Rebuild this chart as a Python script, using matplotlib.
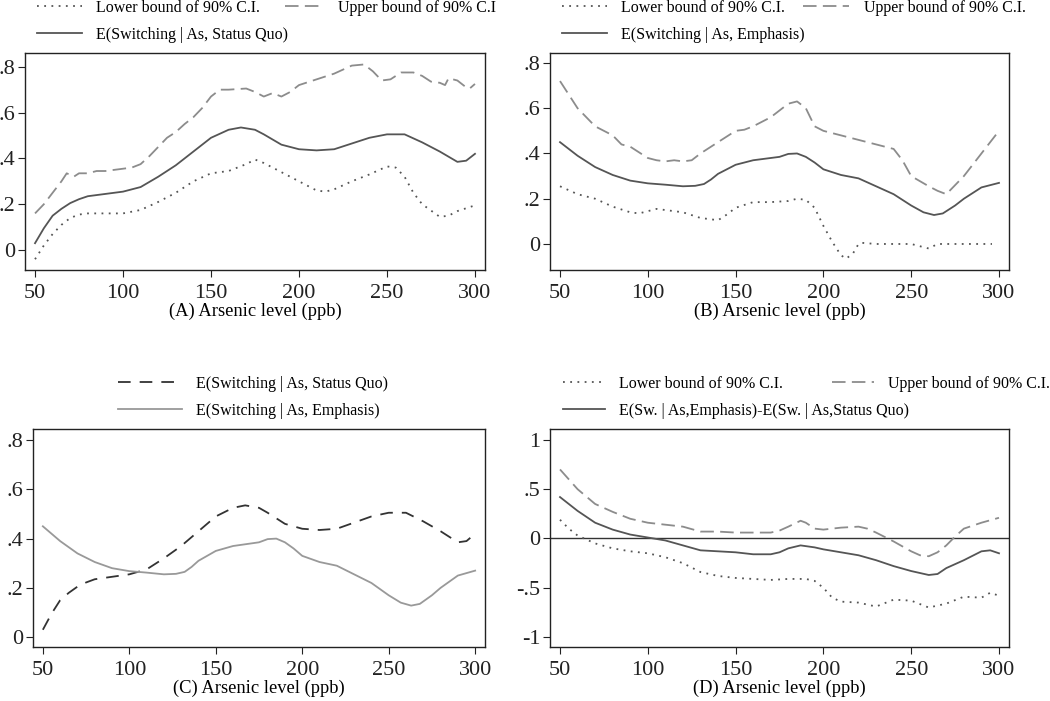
import matplotlib
matplotlib.use("Agg")
import matplotlib.pyplot as plt

plt.rcParams['font.family'] = ['Liberation Serif', 'DejaVu Serif']

# Panel A: status quo
a_x = [50, 55, 60, 65, 70, 75, 80, 90, 100, 110, 120, 130, 140, 150, 160, 167, 175, 180,
       190, 200, 210, 220, 230, 240, 250, 260, 270, 280, 290, 295, 300]
a_mean = [0.03, 0.095, 0.15, 0.18, 0.205, 0.222, 0.235, 0.245, 0.255, 0.275, 0.32, 0.37,
          0.43, 0.49, 0.525, 0.535, 0.525, 0.505, 0.46, 0.44, 0.435, 0.44, 0.465, 0.49,
          0.505, 0.505, 0.47, 0.43, 0.385, 0.39, 0.42]

a_up_x = [50, 55, 60, 65, 68, 72, 75, 80, 85, 90, 95, 100, 105, 110, 115, 120, 125, 130,
          135, 140, 145, 150, 155, 160, 170, 175, 180, 185, 190, 195, 200, 210, 220, 230,
          237, 242, 247, 252, 258, 265, 270, 275, 280, 283, 285, 290, 295, 297, 300]
a_upper = [0.16, 0.2, 0.25, 0.3, 0.335, 0.32, 0.335, 0.335, 0.345, 0.345, 0.35, 0.355,
           0.36, 0.375, 0.41, 0.45, 0.49, 0.515, 0.55, 0.58, 0.62, 0.67, 0.7, 0.7, 0.705,
           0.69, 0.67, 0.685, 0.67, 0.69, 0.72, 0.745, 0.77, 0.805, 0.81, 0.78, 0.74,
           0.745, 0.775, 0.775, 0.76, 0.735, 0.73, 0.72, 0.75, 0.74, 0.71, 0.705, 0.725]

a_lo_x = [50, 55, 60, 65, 70, 75, 80, 90, 100, 110, 120, 130, 140, 150, 160, 170, 175, 180,
          190, 200, 210, 215, 220, 230, 240, 250, 255, 260, 265, 270, 280, 285, 290, 300]
a_lower = [-0.04, 0.02, 0.07, 0.11, 0.14, 0.155, 0.16, 0.16, 0.16, 0.175, 0.21, 0.25, 0.3,
           0.335, 0.345, 0.375, 0.395, 0.38, 0.34, 0.3, 0.26, 0.255, 0.265, 0.3, 0.33,
           0.365, 0.36, 0.32, 0.25, 0.2, 0.145, 0.15, 0.17, 0.195]

# Panel B: emphasis
b_x = [50, 60, 70, 80, 90, 100, 110, 120, 127, 132, 136, 140, 145, 150, 160, 170, 175, 180,
       185, 190, 195, 200, 210, 220, 230, 240, 250, 257, 263, 268, 275, 280, 290, 300]
b_mean = [0.45, 0.39, 0.34, 0.305, 0.28, 0.268, 0.262, 0.255, 0.257, 0.265, 0.285, 0.31,
          0.33, 0.35, 0.37, 0.38, 0.385, 0.398, 0.4, 0.385, 0.36, 0.33, 0.305, 0.29, 0.255,
          0.22, 0.17, 0.14, 0.128, 0.135, 0.17, 0.2, 0.25, 0.27]

b_up_x = [50, 55, 60, 65, 70, 80, 85, 90, 100, 105, 110, 115, 120, 125, 130, 140, 150, 155,
          160, 170, 175, 180, 185, 190, 195, 200, 210, 220, 230, 235, 240, 245, 250, 260,
          265, 270, 275, 280, 290, 300]
b_upper = [0.72, 0.66, 0.6, 0.56, 0.52, 0.48, 0.44, 0.43, 0.38, 0.37, 0.365, 0.37, 0.365,
           0.37, 0.4, 0.45, 0.5, 0.505, 0.52, 0.56, 0.59, 0.62, 0.63, 0.6, 0.52, 0.5, 0.48,
           0.46, 0.44, 0.43, 0.42, 0.37, 0.3, 0.255, 0.235, 0.22, 0.26, 0.3, 0.4, 0.5]

b_lo_x = [50, 60, 70, 80, 90, 95, 100, 105, 110, 120, 130, 140, 145, 150, 160, 170, 180, 185,
          190, 195, 200, 205, 210, 213, 217, 220, 222, 230, 240, 250, 255, 260, 265, 270,
          280, 296]
b_lower = [0.255, 0.22, 0.2, 0.165, 0.14, 0.135, 0.145, 0.155, 0.15, 0.14, 0.115, 0.105,
           0.13, 0.16, 0.185, 0.185, 0.19, 0.2, 0.195, 0.16, 0.08, 0.01, -0.05, -0.065,
           -0.04, 0.0, 0.005, 0.0, 0.0, 0.0, -0.01, -0.02, 0.0, 0.0, 0.0, 0.0]

# Panel D: difference emphasis - status quo
d_x = [50, 60, 70, 80, 90, 100, 110, 120, 130, 140, 150, 160, 170, 175, 180, 187, 195, 200,
       210, 220, 230, 240, 250, 260, 265, 270, 280, 290, 295, 300]
d_mean = [0.42, 0.28, 0.16, 0.09, 0.04, 0.01, -0.02, -0.07, -0.12, -0.13, -0.14, -0.16,
          -0.16, -0.14, -0.1, -0.07, -0.09, -0.11, -0.14, -0.17, -0.22, -0.28, -0.33, -0.37,
          -0.36, -0.3, -0.22, -0.13, -0.12, -0.15]

d_up_x = [50, 60, 70, 80, 90, 100, 110, 120, 130, 140, 150, 160, 170, 175, 180, 187, 190,
          195, 200, 205, 210, 220, 225, 230, 240, 250, 255, 260, 265, 270, 275, 280, 290, 300]
d_upper = [0.7, 0.5, 0.35, 0.27, 0.2, 0.16, 0.14, 0.12, 0.07, 0.07, 0.06, 0.06, 0.06, 0.08,
           0.12, 0.18, 0.16, 0.1, 0.09, 0.1, 0.11, 0.12, 0.1, 0.06, -0.03, -0.13, -0.17,
           -0.18, -0.14, -0.07, 0.02, 0.1, 0.16, 0.21]

d_lo_x = [50, 55, 60, 70, 80, 90, 100, 110, 120, 130, 140, 150, 160, 170, 180, 190, 195, 200,
          205, 210, 220, 230, 240, 250, 260, 270, 280, 290, 295, 300]
d_lower = [0.19, 0.1, 0.03, -0.05, -0.1, -0.13, -0.15, -0.19, -0.25, -0.34, -0.38, -0.4,
           -0.41, -0.42, -0.41, -0.41, -0.43, -0.5, -0.6, -0.64, -0.65, -0.69, -0.62, -0.63,
           -0.7, -0.66, -0.59, -0.6, -0.55, -0.58]

x_ticks = [50, 100, 150, 200, 250, 300]
y_ticks = [0, 0.2, 0.4, 0.6, 0.8]
y_tick_labels = ['0', '.2', '.4', '.6', '.8']
d_ticks = [-1, -0.5, 0, 0.5, 1]
d_tick_labels = ['-1', '-.5', '0', '.5', '1']

DARK = '#555555'
MID = '#8c8c8c'
DOT = (0, (1, 3))
DASH = (0, (7.5, 3.5))


def style_axes(ax, xlabel):
    ax.set_xlim(44.3, 305.7)
    ax.set_xticks(x_ticks)
    ax.tick_params(labelsize=16, direction='out', length=5, width=0.8, colors='#222222')
    ax.tick_params(axis='x', pad=5)
    ax.tick_params(axis='y', pad=2)
    ax.set_xlabel(xlabel, fontsize=13.3, labelpad=0)
    for s in ax.spines.values():
        s.set_linewidth(1.0)
        s.set_color('#222222')


def legend_item(fig, line, label, x_px, y_px, hl=2.8):
    # one legend entry, handle starting at x_px, centred on y_px
    fig.legend([line], [label], loc='center left',
               bbox_to_anchor=(x_px / 1050, 1 - y_px / 701), frameon=False,
               fontsize=11.5, handlelength=hl, handletextpad=0.9,
               borderpad=0, borderaxespad=0)


fig = plt.figure(figsize=(10.5, 7.01), dpi=100)

axA = fig.add_axes([25 / 1050, 1 - 270 / 701, 460 / 1050, 217 / 701])
lo, = axA.plot(a_lo_x, a_lower, color=DARK, lw=1.3, linestyle=DOT)
mn, = axA.plot(a_x, a_mean, color=DARK, lw=1.3)
up, = axA.plot(a_up_x, a_upper, color=MID, lw=1.3, linestyle=DASH)
axA.set_ylim(-0.087, 0.86)
axA.set_yticks(y_ticks, y_tick_labels)
style_axes(axA, '(A) Arsenic level (ppb)')
legend_item(fig, lo, 'Lower bound of 90% C.I.', 37, 8)
legend_item(fig, up, 'Upper bound of 90% C.I', 285, 8, hl=2.4)
legend_item(fig, mn, 'E(Switching | As, Status Quo)', 37, 35)

axB = fig.add_axes([550 / 1050, 1 - 270 / 701, 459 / 1050, 217 / 701])
lo, = axB.plot(b_lo_x, b_lower, color=DARK, lw=1.3, linestyle=DOT)
mn, = axB.plot(b_x, b_mean, color=DARK, lw=1.3)
up, = axB.plot(b_up_x, b_upper, color=MID, lw=1.3, linestyle=DASH)
axB.set_ylim(-0.115, 0.844)
axB.set_yticks(y_ticks, y_tick_labels)
style_axes(axB, '(B) Arsenic level (ppb)')
legend_item(fig, lo, 'Lower bound of 90% C.I.', 562, 8)
legend_item(fig, up, 'Upper bound of 90% C.I.', 803, 8, hl=2.9)
legend_item(fig, mn, 'E(Switching | As, Emphasis)', 562, 35)

axC = fig.add_axes([33 / 1050, 1 - 647 / 701, 452 / 1050, 218 / 701])
sq, = axC.plot(a_x, a_mean, color='#333333', lw=1.3, linestyle=(0, (7, 5)))
em, = axC.plot(b_x, b_mean, color='#999999', lw=1.3)
axC.set_ylim(-0.04, 0.845)
axC.set_yticks(y_ticks, y_tick_labels)
style_axes(axC, '(C) Arsenic level (ppb)')
legend_item(fig, sq, 'E(Switching | As, Status Quo)', 118, 384, hl=4.0)
legend_item(fig, em, 'E(Switching | As, Emphasis)', 118, 411, hl=4.0)

axD = fig.add_axes([550 / 1050, 1 - 647 / 701, 459 / 1050, 218 / 701])
axD.axhline(0, color='#333333', lw=1.0)
lo, = axD.plot(d_lo_x, d_lower, color=DARK, lw=1.3, linestyle=DOT)
mn, = axD.plot(d_x, d_mean, color=DARK, lw=1.3)
up, = axD.plot(d_up_x, d_upper, color=MID, lw=1.3, linestyle=DASH)
axD.set_ylim(-1.1, 1.11)
axD.set_yticks(d_ticks, d_tick_labels)
style_axes(axD, '(D) Arsenic level (ppb)')
legend_item(fig, lo, 'Lower bound of 90% C.I.', 563, 384, hl=2.6)
legend_item(fig, up, 'Upper bound of 90% C.I.', 832, 384, hl=2.6)
legend_item(fig, mn, 'E(Sw. | As,Emphasis)-E(Sw. | As,Status Quo)', 563, 411, hl=2.6)

fig.savefig('out.png', dpi=100)
